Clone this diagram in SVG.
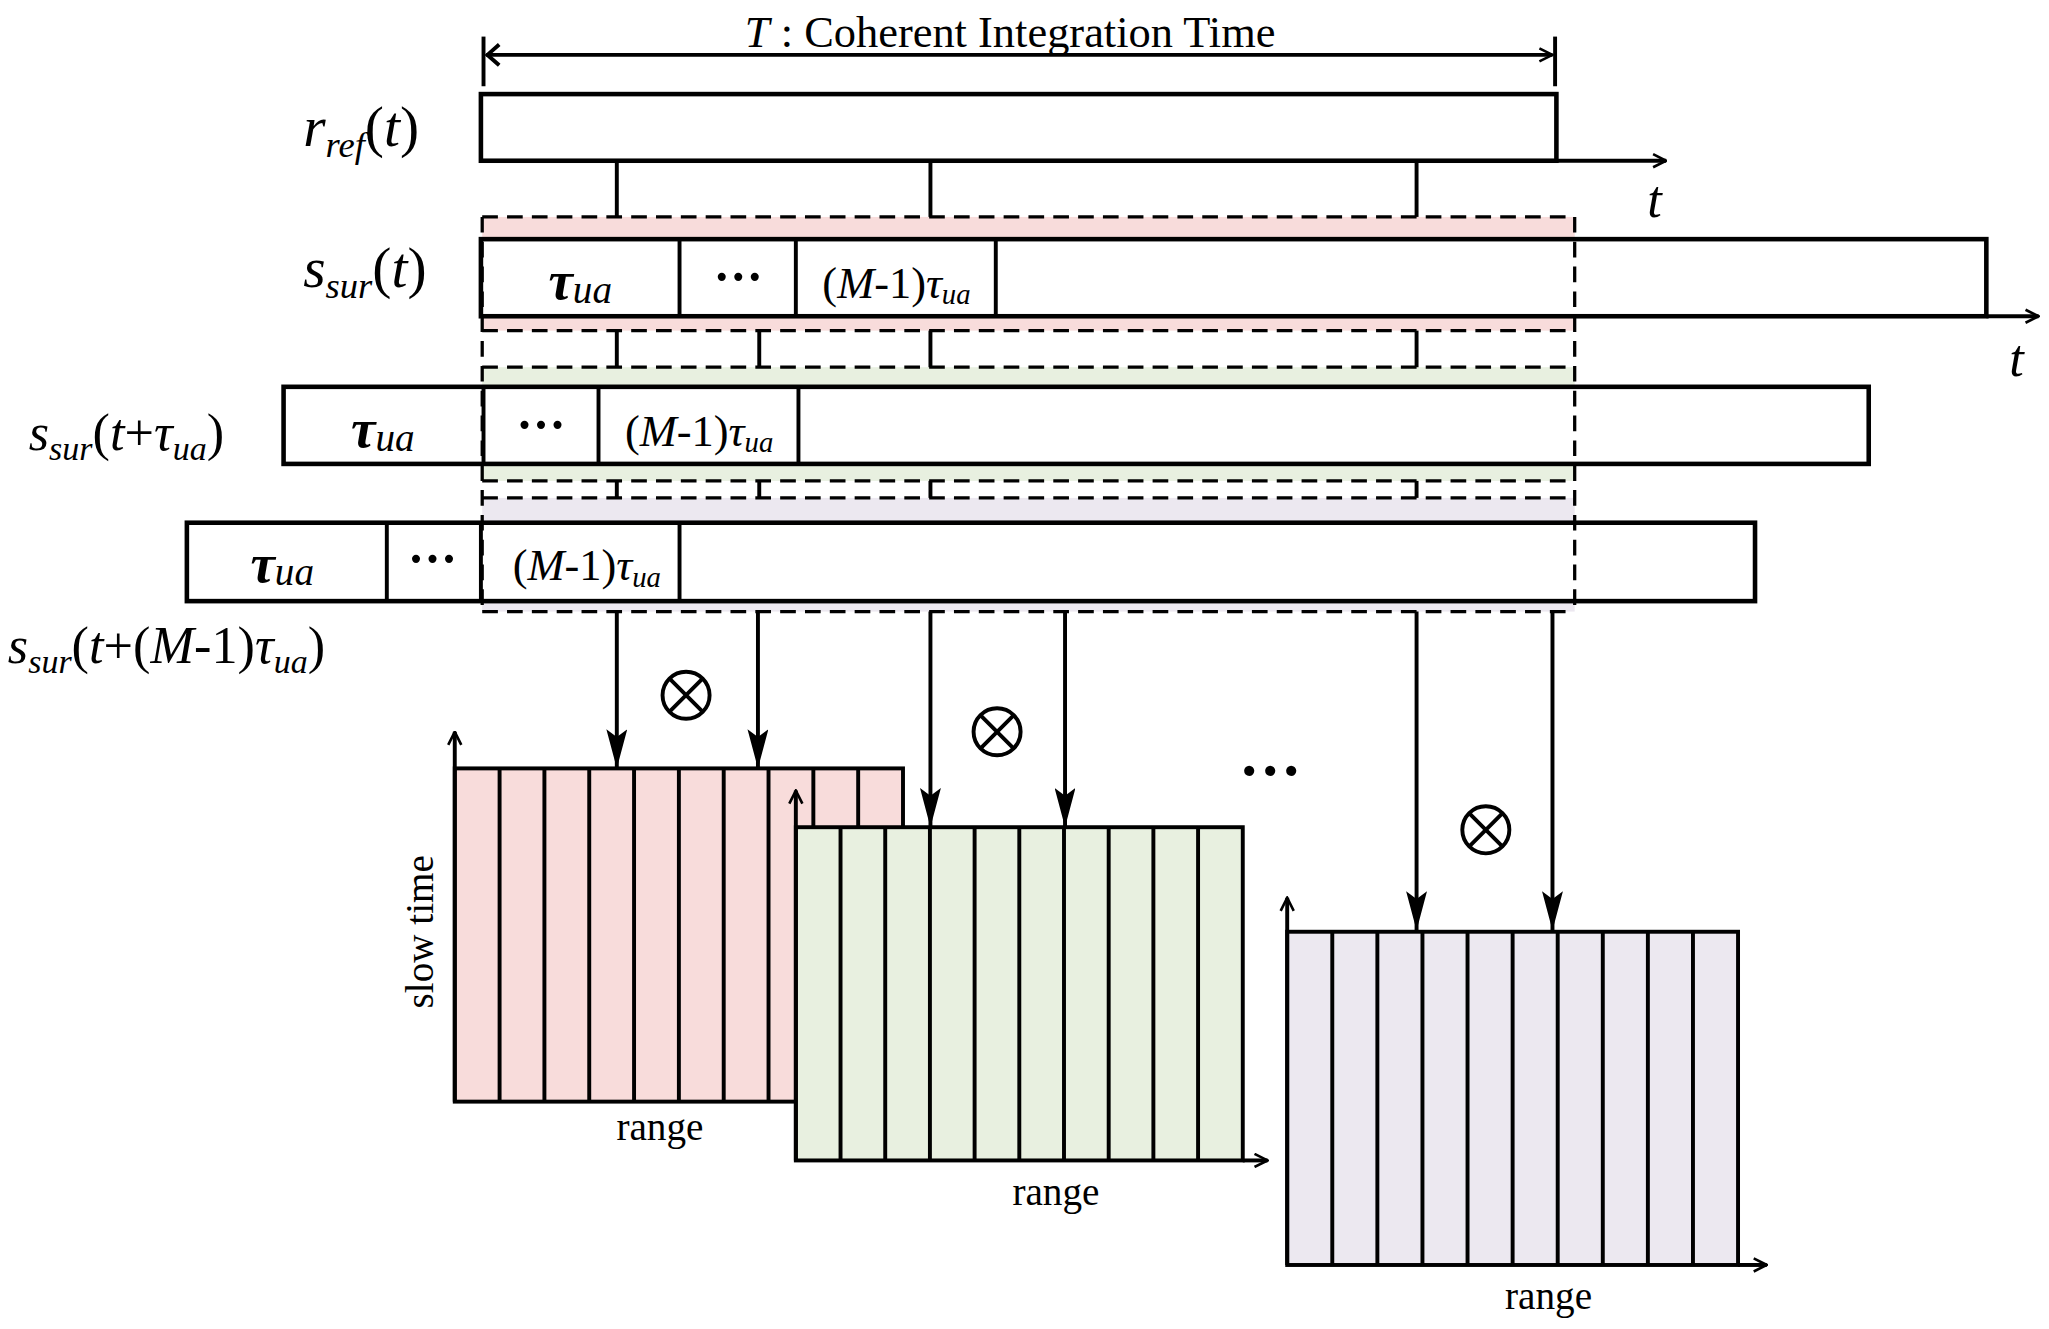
<svg xmlns="http://www.w3.org/2000/svg" width="2049" height="1329" viewBox="0 0 2049 1329">
<defs>
<style>
.s{fill:none;stroke:#000;stroke-width:3}
.b{fill:#fff;stroke:#000;stroke-width:3.5}
.d{fill:none;stroke:#000;stroke-width:2.5;stroke-dasharray:12,7}
.t{font-family:"Liberation Serif",serif;fill:#000}
.i{font-style:italic}
</style>
<marker id="open" viewBox="0 0 12 12" refX="11" refY="6" markerWidth="12" markerHeight="12" markerUnits="userSpaceOnUse" orient="auto"><path d="M1,1 L11,6 L1,11" fill="none" stroke="#000" stroke-width="2"/></marker>
<marker id="arr" viewBox="0 0 30 16" refX="30" refY="8" markerWidth="30" markerHeight="16" markerUnits="userSpaceOnUse" orient="auto"><path d="M0,0 L30,8 L0,16 L6,8 Z" fill="#000"/></marker>
</defs>
<rect width="2049" height="1329" fill="#fff"/>
<g transform="scale(1.3068)">
<g id="bands">
<rect x="369" y="166" width="836" height="87" fill="#f8dcdb"/>
<rect x="369" y="281" width="836" height="87" fill="#e8f0e0"/>
<rect x="369" y="381" width="836" height="87" fill="#ece8f0"/>
</g>
<g id="T">
<line class="s" x1="370" y1="28" x2="370" y2="66"/>
<line class="s" x1="1190" y1="28" x2="1190" y2="66"/>
<line class="s" x1="372" y1="42" x2="1188" y2="42" marker-end="url(#open)"/>
<path class="s" d="M382,34 L373,42 L382,50"/>
<text class="t" x="773" y="36" font-size="34" text-anchor="middle"><tspan class="i">T</tspan> : Coherent Integration Time</text>
</g>
<g id="rref">
<rect class="b" x="368" y="72" width="823" height="51"/>
<line class="s" x1="1191" y1="123" x2="1275" y2="123" marker-end="url(#open)"/>
<text class="t i" x="1266" y="166" font-size="40" text-anchor="middle">t</text>
<text class="t i" x="232" y="112" font-size="44">r<tspan font-size="28" dy="8">ref</tspan><tspan dy="-8" font-style="normal">(</tspan>t<tspan font-style="normal">)</tspan></text>
</g>
<g id="ssur0">
<rect class="b" x="368" y="183" width="1152" height="59"/>
<line class="s" x1="520" y1="183" x2="520" y2="242"/>
<line class="s" x1="609" y1="183" x2="609" y2="242"/>
<line class="s" x1="762" y1="183" x2="762" y2="242"/>
<line class="s" x1="1520" y1="242" x2="1560" y2="242" marker-end="url(#open)"/>
<text class="t i" x="1543" y="288" font-size="40" text-anchor="middle">t</text>
<text class="t i" x="232" y="220" font-size="44">s<tspan font-size="28" dy="8">sur</tspan><tspan dy="-8" font-style="normal">(</tspan>t<tspan font-style="normal">)</tspan></text>
<text class="t i" x="444" y="229" font-size="42" font-weight="bold" text-anchor="middle">τ<tspan font-size="30" font-weight="normal" dy="3">ua</tspan></text>
<text class="t" x="565" y="225" font-size="38" font-weight="bold" text-anchor="middle">···</text>
<text class="t" x="686" y="228" font-size="34" text-anchor="middle">(<tspan class="i">M</tspan>-1)<tspan class="i">τ<tspan font-size="22" dy="5">ua</tspan></tspan></text>
</g>
<g id="ssur1">
<rect class="b" x="217" y="296" width="1213" height="59"/>
<line class="s" x1="370" y1="296" x2="370" y2="355"/>
<line class="s" x1="458" y1="296" x2="458" y2="355"/>
<line class="s" x1="611" y1="296" x2="611" y2="355"/>
<text class="t i" x="293" y="342" font-size="42" font-weight="bold" text-anchor="middle">τ<tspan font-size="30" font-weight="normal" dy="3">ua</tspan></text>
<text class="t" x="414" y="338" font-size="38" font-weight="bold" text-anchor="middle">···</text>
<text class="t" x="535" y="341" font-size="34" text-anchor="middle">(<tspan class="i">M</tspan>-1)<tspan class="i">τ<tspan font-size="22" dy="5">ua</tspan></tspan></text>
<text class="t i" x="22" y="344" font-size="40">s<tspan font-size="26" dy="8">sur</tspan><tspan dy="-8" font-style="normal">(</tspan>t<tspan font-style="normal">+</tspan>τ<tspan font-size="26" dy="8">ua</tspan><tspan dy="-8" font-style="normal">)</tspan></text>
</g>
<g id="ssur2">
<rect class="b" x="143" y="400" width="1200" height="60"/>
<line class="s" x1="296" y1="400" x2="296" y2="460"/>
<line class="s" x1="368" y1="400" x2="368" y2="460"/>
<line class="s" x1="520" y1="400" x2="520" y2="460"/>
<text class="t i" x="216" y="445" font-size="42" font-weight="bold" text-anchor="middle">τ<tspan font-size="30" font-weight="normal" dy="3">ua</tspan></text>
<text class="t" x="331" y="441" font-size="38" font-weight="bold" text-anchor="middle">···</text>
<text class="t" x="449" y="444" font-size="34" text-anchor="middle">(<tspan class="i">M</tspan>-1)<tspan class="i">τ<tspan font-size="22" dy="5">ua</tspan></tspan></text>
<text class="t i" x="6" y="507" font-size="40">s<tspan font-size="26" dy="8">sur</tspan><tspan dy="-8" font-style="normal">(</tspan>t<tspan font-style="normal">+(</tspan>M<tspan font-style="normal">-1)</tspan>τ<tspan font-size="26" dy="8">ua</tspan><tspan dy="-8" font-style="normal">)</tspan></text>
</g>
<g id="dashes">
<line class="d" x1="369" y1="166" x2="1205" y2="166"/>
<line class="d" x1="369" y1="253" x2="1205" y2="253"/>
<line class="d" x1="369" y1="281" x2="1205" y2="281"/>
<line class="d" x1="369" y1="368" x2="1205" y2="368"/>
<line class="d" x1="369" y1="381" x2="1205" y2="381"/>
<line class="d" x1="369" y1="468" x2="1205" y2="468"/>
<line class="d" x1="369" y1="166" x2="369" y2="468" stroke-width="2" stroke-dasharray="20,6"/>
<line class="d" x1="1205" y1="166" x2="1205" y2="468" stroke-width="1.5" stroke-dasharray="6,10"/>
</g>
<g id="connectors">
<line class="s" x1="472" y1="123" x2="472" y2="166"/>
<line class="s" x1="712" y1="123" x2="712" y2="166"/>
<line class="s" x1="1084" y1="123" x2="1084" y2="166"/>
<line class="s" x1="472" y1="253" x2="472" y2="281"/>
<line class="s" x1="581" y1="253" x2="581" y2="281"/>
<line class="s" x1="712" y1="253" x2="712" y2="281"/>
<line class="s" x1="1084" y1="253" x2="1084" y2="281"/>
<line class="s" x1="472" y1="368" x2="472" y2="381"/>
<line class="s" x1="581" y1="368" x2="581" y2="381"/>
<line class="s" x1="712" y1="368" x2="712" y2="381"/>
<line class="s" x1="1084" y1="368" x2="1084" y2="381"/>
<line class="s" x1="472" y1="468" x2="472" y2="588" marker-end="url(#arr)"/>
<line class="s" x1="580" y1="468" x2="580" y2="588" marker-end="url(#arr)"/>
<line class="s" x1="712" y1="468" x2="712" y2="633" marker-end="url(#arr)"/>
<line class="s" x1="815" y1="468" x2="815" y2="633" marker-end="url(#arr)"/>
<line class="s" x1="1084" y1="468" x2="1084" y2="712" marker-end="url(#arr)"/>
<line class="s" x1="1188" y1="468" x2="1188" y2="712" marker-end="url(#arr)"/>
</g>
<g id="otimes" class="s" stroke-width="2.5">
<circle cx="525" cy="532" r="18"/><path d="M512,519 L538,545 M538,519 L512,545"/>
<circle cx="763" cy="560" r="18"/><path d="M750,547 L776,573 M776,547 L750,573"/>
<circle cx="1137" cy="635" r="18"/><path d="M1124,622 L1150,648 M1150,622 L1124,648"/>
</g>
<text class="t" x="972" y="606" font-size="48" font-weight="bold" text-anchor="middle">···</text>
<g id="m1">
<rect x="348" y="588" width="343" height="255" fill="#f8dcdb" stroke="#000" stroke-width="3"/>
<path class="s" stroke-width="2.5" d="M382.3,588V843M416.6,588V843M450.9,588V843M485.2,588V843M519.5,588V843M553.8,588V843M588.1,588V843M622.4,588V843M656.7,588V843"/>
<line class="s" x1="348" y1="843" x2="348" y2="560" marker-end="url(#open)"/>
<text class="t" x="505" y="872" font-size="30" text-anchor="middle">range</text>
<text class="t" x="0" y="0" font-size="30" text-anchor="middle" transform="translate(331,713) rotate(-90)">slow time</text>
</g>
<g id="m2">
<rect x="609" y="633" width="342" height="255" fill="#e8f0e0" stroke="#000" stroke-width="3"/>
<path class="s" stroke-width="2.5" d="M643.2,633V888M677.4,633V888M711.6,633V888M745.8,633V888M780,633V888M814.2,633V888M848.4,633V888M882.6,633V888M916.8,633V888"/>
<line class="s" x1="609" y1="888" x2="609" y2="605" marker-end="url(#open)"/>
<line class="s" x1="951" y1="888" x2="970" y2="888" marker-end="url(#open)"/>
<text class="t" x="808" y="922" font-size="30" text-anchor="middle">range</text>
</g>
<g id="m3">
<rect x="985" y="713" width="345" height="255" fill="#ece8f0" stroke="#000" stroke-width="3"/>
<path class="s" stroke-width="2.5" d="M1019.5,713V968M1054,713V968M1088.5,713V968M1123,713V968M1157.5,713V968M1192,713V968M1226.5,713V968M1261,713V968M1295.5,713V968"/>
<line class="s" x1="985" y1="968" x2="985" y2="687" marker-end="url(#open)"/>
<line class="s" x1="1330" y1="968" x2="1352" y2="968" marker-end="url(#open)"/>
<text class="t" x="1185" y="1002" font-size="30" text-anchor="middle">range</text>
</g>
</g>
</svg>
